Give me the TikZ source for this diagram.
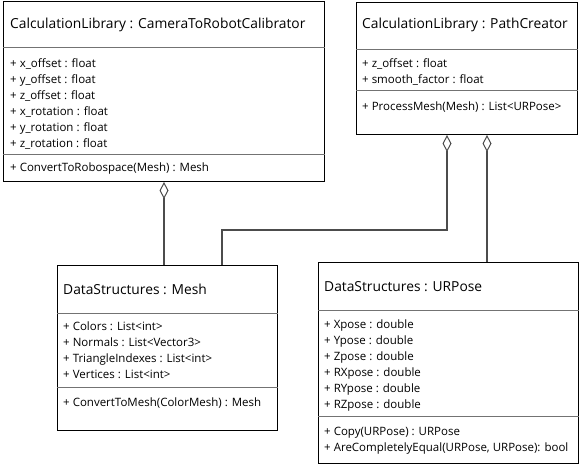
\documentclass[tikz,border=0pt]{standalone}
\usepackage{fontspec}
\setmainfont{Open Sans}
\usetikzlibrary{arrows.meta, positioning, calc}

\tikzset{
  classbox/.style={draw=black, line width=1pt, anchor=north west, inner sep=0pt},
  classtitle/.style={anchor=west, inner sep=0pt, font=\fontsize{13.8}{16}\selectfont},
  members/.style={anchor=north west, inner sep=0pt, align=left, font=\fontsize{11.5}{16}\selectfont},
  sepline/.style={draw=black!55, line width=1pt},
  agg/.style={draw=black!70, line width=1.2pt, {Diamond[open, length=17pt, width=9pt, line width=1pt]}-}
}

\begin{document}
\begin{tikzpicture}[x=1pt, y=-1pt]
		\useasboundingbox (0,0) rectangle (580,465);

		% Classes
		\node[classbox, minimum width=321pt, minimum height=180pt] (calib) at (3,1) {};
		\node[classbox, minimum width=221pt, minimum height=132pt] (path) at (356,2) {};
		\node[classbox, minimum width=220pt, minimum height=165pt] (mesh) at (57,265) {};
		\node[classbox, minimum width=260pt, minimum height=201pt] (urpose) at (318,262) {};

		% Compartment lines
		\draw[sepline] ($(calib.north west)+(0,47)$) -- ($(calib.north east)+(0,47)$);
		\draw[sepline] ($(calib.north west)+(0,154)$) -- ($(calib.north east)+(0,154)$);
		\draw[sepline] ($(path.north west)+(0,48)$) -- ($(path.north east)+(0,48)$);
		\draw[sepline] ($(path.north west)+(0,89)$) -- ($(path.north east)+(0,89)$);
		\draw[sepline] ($(mesh.north west)+(0,48)$) -- ($(mesh.north east)+(0,48)$);
		\draw[sepline] ($(mesh.north west)+(0,122)$) -- ($(mesh.north east)+(0,122)$);
		\draw[sepline] ($(urpose.north west)+(0,48)$) -- ($(urpose.north east)+(0,48)$);
		\draw[sepline] ($(urpose.north west)+(0,154)$) -- ($(urpose.north east)+(0,154)$);

		% Titles
		\node[classtitle] (calib-name) at (10,25) {CalculationLibrary : CameraToRobotCalibrator};
		\node[classtitle] (path-name) at (362,25) {CalculationLibrary : PathCreator};
		\node[classtitle] (mesh-name) at (63,289) {DataStructures : Mesh};
		\node[classtitle] (urpose-name) at (324,287) {DataStructures : URPose};

		% Attributes
		\node[members] (calib-attr) at (10,59) {+ x\_offset : float\\+ y\_offset : float\\+ z\_offset : float\\+ x\_rotation : float\\+ y\_rotation : float\\+ z\_rotation : float};
		\node[members] (path-attr) at (362,59) {+ z\_offset : float\\+ smooth\_factor : float};
		\node[members] (mesh-attr) at (63,322) {+ Colors : List<int>\\+ Normals : List<Vector3>\\+ TriangleIndexes : List<int>\\+ Vertices : List<int>};
		\node[members] (urpose-attr) at (324,320) {+ Xpose : double\\+ Ypose : double\\+ Zpose : double\\+ RXpose : double\\+ RYpose : double\\+ RZpose : double};

		% Operations
		\node[members] (calib-ops) at (10,163) {+ ConvertToRobospace(Mesh) : Mesh};
		\node[members] (path-ops) at (362,102) {+ ProcessMesh(Mesh) : List<URPose>};
		\node[members] (mesh-ops) at (63,398) {+ ConvertToMesh(ColorMesh) : Mesh};
		\node[members] (urpose-ops) at (324,427) {+ Copy(URPose) : URPose\\+ AreCompletelyEqual(URPose, URPose): bool};

		% Aggregations
		\coordinate (path-left) at ($(path.south)+(-20,0)$);
		\coordinate (path-right) at ($(path.south)+(20,0)$);
		\coordinate (mesh-in) at ($(mesh.north west)+(165,0)$);
		\draw[agg] (calib.south) -- (calib.south |- mesh.north);
		\draw[agg] (path-left) -- ++(0,95) -| (mesh-in);
		\draw[agg] (path-right) -- (path-right |- urpose.north);
	\end{tikzpicture}
\end{document}
